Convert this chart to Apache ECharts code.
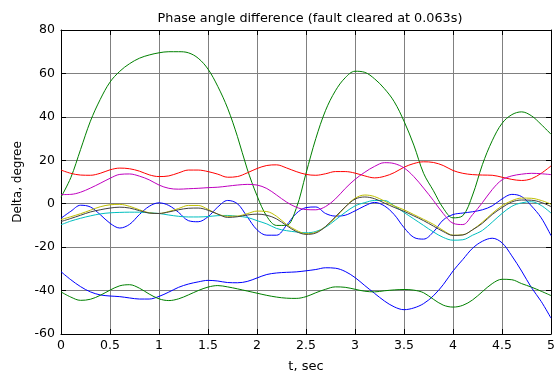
<!DOCTYPE html>
<html>
<head>
<meta charset="utf-8">
<script src="https://cdn.jsdelivr.net/npm/echarts@6/dist/echarts.min.js"></script>
<style>
  html, body { margin: 0; padding: 0; background: #fff; }
  #chart { width: 558px; height: 378px; }
</style>
</head>
<body>
<div id="chart"></div>
<script>
// time axis, sec
var times = [0, 0.1, 0.2, 0.3, 0.4, 0.5, 0.6, 0.7, 0.8, 0.9,
  1.0, 1.1, 1.2, 1.3, 1.4, 1.5, 1.6, 1.7, 1.8, 1.9,
  2.0, 2.1, 2.2, 2.3, 2.4, 2.5, 2.6, 2.7, 2.8, 2.9,
  3.0, 3.1, 3.2, 3.3, 3.4, 3.5, 3.6, 3.7, 3.8, 3.9,
  4.0, 4.1, 4.2, 4.3, 4.4, 4.5, 4.6, 4.7, 4.8, 4.9, 5.0]

// phase angle difference of each machine, degree
var blueUpper = [-6.7, -3.5, -0.7, -1.5, -5, -9, -11.2, -9.5, -5, -1.2,
  0.4, -0.8, -4, -7.8, -8.3, -6, -1.5, 1.5, 0, -6,
  -12, -14.5, -14.5, -10, -4.5, -1.8, -1.5, -4.5, -5.7, -5.3,
  -3.3, -1, 0.6, -1, -5, -11, -15.5, -16.3, -13, -7.5,
  -5, -4.3, -3.7, -2.8, -1, 2.2, 4.3, 3.3, -1, -6.5, -14.7]

var greenSwing = [3, 12, 25, 38, 48, 56, 61, 64.5, 67, 68.5,
  69.5, 70, 70, 69.5, 67, 62, 54, 44, 31, 16,
  3.7, -5.8, -10, -10, -2.2, 14, 30, 43, 52, 58,
  61, 60.5, 57.5, 53, 47, 38, 27, 14, 6, -2,
  -6.5, -5.5, 4, 18, 29, 37, 41, 42.3, 40.5, 36.5, 32]

var red = [15.5, 14, 13.2, 13.1, 14, 15.6, 16.4, 16.1, 15, 13.3,
  12.5, 12.8, 14.2, 15.5, 15.5, 14.8, 13.6, 12.2, 12.5, 14.2,
  16.2, 17.6, 17.9, 16.5, 14.8, 13.5, 13.1, 13.8, 14.8, 14.8,
  14.1, 12.8, 11.9, 12.6, 14.3, 16.8, 18.5, 19.3, 19, 17.6,
  15.3, 14, 13.4, 13.2, 13.1, 12.2, 11.2, 10.7, 11.5, 14, 17.4]

var cyan = [-9.7, -8, -6.7, -5.6, -4.7, -4.2, -4, -3.9, -3.9, -4.2,
  -4.5, -5.2, -5.8, -6.1, -6.1, -5.9, -5.5, -5.4, -5.8, -6.3,
  -7.8, -9.3, -11.4, -12.4, -13, -13.4, -12.8, -10.8, -7.5, -4,
  -1, 0.5, 1.5, 1.5, -1, -4, -7, -10, -13, -15.5,
  -16.8, -16.6, -14.5, -12.3, -8.5, -4.5, -1.2, 0.4, 0.9, -0.8, -4.3]

var magenta = [4.2, 4.3, 5.3, 7.2, 9.4, 11.7, 13.5, 13.7, 12.7, 11,
  8.6, 7.1, 6.7, 6.9, 7.1, 7.4, 7.6, 8.1, 8.6, 8.9,
  8.6, 7, 4, 0.8, -1.6, -2.7, -2.8, -1.3, 2.2, 7,
  11.2, 14.5, 17.2, 18.9, 18.5, 16.5, 12.5, 7.2, 1.5, -4.5,
  -9, -9.6, -5, 0.5, 6.5, 11, 12.8, 13.6, 14, 13.8, 13.4]

var yellow = [-7.3, -6, -4.6, -3, -1.4, -0.5, -0.3, -1.2, -2.8, -4.2,
  -4.5, -3.6, -2.2, -0.8, -0.8, -2.6, -4.8, -5.8, -5.7, -4.6,
  -3.4, -3.6, -5.8, -9.5, -12.2, -13.8, -13.2, -10.5, -6.5, -1.5,
  2.5, 4, 3.3, 1.2, -1, -2.8, -5, -7.2, -9.5, -12.3,
  -14.5, -14.3, -12, -8.5, -4.5, -1, 1.4, 2.6, 2.5, 1.5, -0.2]

var gray = [-8.2, -6.8, -5.3, -3.8, -2.8, -2, -1.6, -2, -3.2, -4.3,
  -4.5, -3.8, -2.8, -2.1, -2, -3, -4.8, -6.3, -6, -5.2,
  -4.8, -5.3, -7, -10, -12.8, -14.1, -13.5, -10.5, -6, -1.5,
  2.1, 3.1, 2.3, 0.3, -1.7, -3.5, -5.6, -7.8, -10.3, -12.8,
  -14.6, -14.4, -12, -9, -5, -1.8, 0.8, 1.7, 1.6, 0.6, -1.3]

var blueLower = [-31.3, -35, -38.2, -40.6, -42, -42.5, -42.8, -43.4, -43.9, -43.9,
  -42.7, -40.7, -38.5, -37, -36, -35.3, -35.6, -36.3, -36.4, -35.8,
  -34.2, -32.6, -31.9, -31.6, -31.4, -30.9, -30.3, -29.5, -29.7, -31.2,
  -34, -37.7, -41.3, -44.8, -47.5, -48.8, -48, -46, -42.4, -37.3,
  -31, -25.7, -20.5, -17.3, -15.9, -18, -24, -31, -38.6, -45, -52.7]

var greenLower = [-40.6, -43, -44.5, -44, -42.2, -39.8, -37.8, -37.3, -38.9, -41.6,
  -43.8, -44.6, -43.8, -42, -40, -38.4, -37.7, -38.3, -39.2, -40.2,
  -41.2, -42.2, -43, -43.5, -43.6, -42.8, -41, -39.4, -38.3, -38.5,
  -39.4, -40.3, -40.6, -40.1, -39.7, -39.5, -39.8, -41, -44, -46.7,
  -47.6, -46.8, -44.3, -40.5, -36.8, -34.8, -35, -36.8, -38.4, -40.3, -42.3]

function pairs (vals) {
  return times.map(function (t, i) { return [t, vals[i]] })
}

function line (vals, color) {
  return {
    type: 'line',
    data: pairs(vals),
    smooth: 0.35,
    showSymbol: false,
    silent: true,
    lineStyle: { color: color, width: 1 }
  }
}

var font = 'DejaVu Sans'
var chart = echarts.init(document.getElementById('chart'))

// top and right edges of the box, no labels
var frameAxis = {
  axisLine: { show: true, onZero: false, lineStyle: { color: '#000', width: 1 } },
  axisTick: { show: true, inside: true, length: 5, lineStyle: { color: '#000' } },
  splitLine: { show: false },
  axisLabel: { show: false }
}

chart.setOption({
  animation: false,
  backgroundColor: '#fff',
  title: {
    text: 'Phase angle difference (fault cleared at 0.063s)',
    left: 305,
    textAlign: 'center',
    top: 7,
    textStyle: { fontFamily: font, fontSize: 12.8, fontWeight: 'normal', color: '#000' }
  },
  grid: { left: 61, right: 7, top: 30, bottom: 35 },
  xAxis: [{
    type: 'value',
    min: 0,
    max: 5,
    interval: 0.5,
    name: 't, sec',
    nameLocation: 'middle',
    nameGap: 26,
    nameTextStyle: { fontFamily: font, fontSize: 13, color: '#000' },
    axisLine: { show: true, onZero: false, lineStyle: { color: '#000', width: 1 } },
    axisTick: { show: true, inside: true, length: 5, lineStyle: { color: '#000' } },
    axisLabel: { fontFamily: font, fontSize: 12.5, color: '#000', margin: 5 },
    splitLine: { show: true, lineStyle: { color: '#808080', width: 1 } }
  }, Object.assign({
    type: 'value', position: 'top', min: 0, max: 5, interval: 0.5
  }, frameAxis)],
  yAxis: [{
    type: 'value',
    min: -60,
    max: 80,
    interval: 20,
    name: 'Delta, degree',
    nameLocation: 'middle',
    nameGap: 37,
    nameTextStyle: { fontFamily: font, fontSize: 12, color: '#000' },
    axisLine: { show: true, onZero: false, lineStyle: { color: '#000', width: 1 } },
    axisTick: { show: true, inside: true, length: 5, lineStyle: { color: '#000' } },
    axisLabel: { fontFamily: font, fontSize: 12.5, color: '#000', margin: 6 },
    splitLine: { show: true, lineStyle: { color: '#808080', width: 1 } }
  }, Object.assign({
    type: 'value', position: 'right', min: -60, max: 80, interval: 20
  }, frameAxis)],
  series: [
    line(blueUpper, '#0000ff'),
    line(greenSwing, '#008000'),
    line(red, '#ff0000'),
    line(cyan, '#00bfbf'),
    line(magenta, '#bf00bf'),
    line(yellow, '#bfbf00'),
    line(gray, '#404040'),
    line(blueLower, '#0000ff'),
    line(greenLower, '#008000')
  ]
})
</script>
</body>
</html>
